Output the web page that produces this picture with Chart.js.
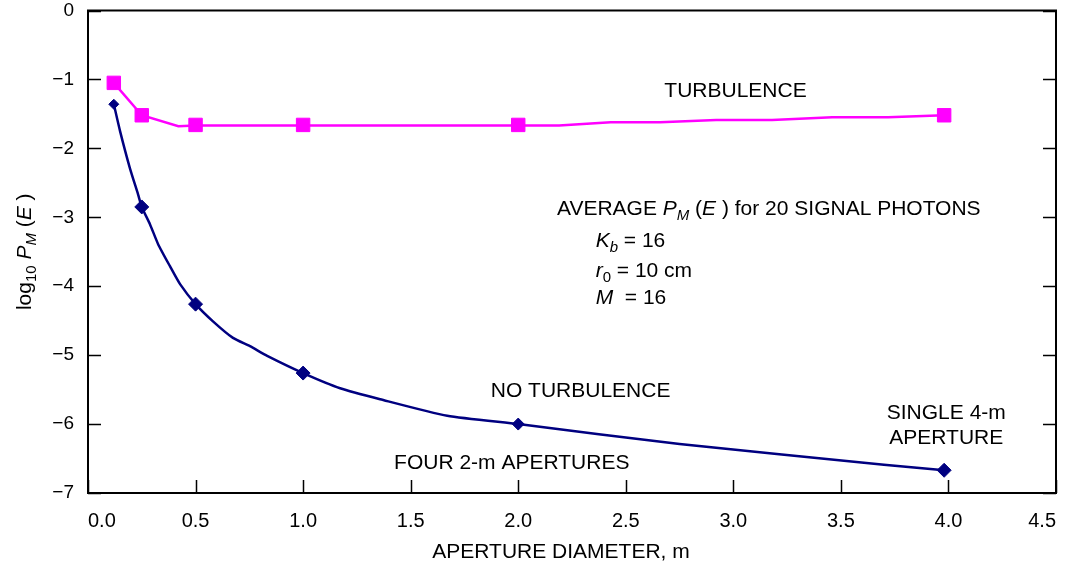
<!DOCTYPE html>
<html>
<head>
<meta charset="utf-8">
<script src="https://cdn.jsdelivr.net/npm/chart.js@4/dist/chart.umd.min.js"></script>
<style>
  html, body { margin: 0; padding: 0; background: #fff; }
  #wrap { width: 1068px; height: 567px; }
</style>
</head>
<body>
<div id="wrap"><canvas id="pmChart" width="1068" height="567"></canvas></div>
<script>
// markers
const apertureX = [0.12, 0.25, 0.5, 1.0, 2.0, 3.98];
const turbY = [-1.05, -1.52, -1.66, -1.66, -1.66, -1.52];
const noTurbY = [-1.36, -2.85, -4.26, -5.26, -6.0, -6.67];

// vertices of the drawn curves (incl. the marker points)
const turbLineX = [0.12, 0.25, 0.42, 0.5, 1.0, 2.0, 2.19, 2.43, 2.66, 2.92, 3.18, 3.46, 3.72, 3.98];
const turbLineY = [-1.05, -1.52, -1.68, -1.67, -1.67, -1.67, -1.67, -1.62, -1.62, -1.59, -1.59, -1.55, -1.55, -1.52];
const noTurbLineX = [0.12, 0.149, 0.195, 0.233, 0.25, 0.288, 0.326, 0.381, 0.428, 0.5, 0.581, 0.674, 0.753, 0.833, 1.0, 1.172, 1.358, 1.67, 2.0, 2.75, 3.7, 3.98];
const noTurbLineY = [-1.36, -1.75, -2.29, -2.67, -2.85, -3.10, -3.39, -3.71, -3.97, -4.26, -4.51, -4.75, -4.87, -5.01, -5.26, -5.48, -5.64, -5.88, -6.0, -6.29, -6.59, -6.67];

const xTicks = [0, 0.5, 1.0, 1.5, 2.0, 2.5, 3.0, 3.5, 4.0, 4.5];
const yTicks = [0, -1, -2, -3, -4, -5, -6, -7];

const FONT = '"Liberation Sans", Arial, Helvetica, sans-serif';
const MAGENTA = '#ff00ff';
const NAVY = '#000080';

function pts(xs, ys) { return xs.map((x, i) => ({ x: x, y: ys[i] })); }

// text with italic / subscript runs
function drawRich(ctx, runs, x, y, align) {
    let total = 0;
    runs.forEach(r => {
        ctx.font = (r.i ? 'italic ' : '') + (r.s ? 15 : 21) + 'px ' + FONT;
        r.w = ctx.measureText(r.t).width;
        total += r.w;
    });
    let cx = align === 'center' ? x - total / 2 : x;
    ctx.textAlign = 'left';
    ctx.textBaseline = 'middle';
    ctx.fillStyle = '#000';
    runs.forEach(r => {
        ctx.font = (r.i ? 'italic ' : '') + (r.s ? 15 : 21) + 'px ' + FONT;
        ctx.fillText(r.t, cx, y + (r.s ? 7 : 0));
        cx += r.w;
    });
}

const framePlugin = {
    id: 'frame',
    afterDraw(chart) {
        const ctx = chart.ctx;
        const a = chart.chartArea;
        const xs = chart.scales.x, ys = chart.scales.y;
        const tl = 13;
        ctx.save();
        ctx.strokeStyle = '#000';
        ctx.lineWidth = 1.5;
        // inward ticks on left, right, bottom
        ctx.beginPath();
        yTicks.forEach(v => {
            const py = Math.round(ys.getPixelForValue(v)) + 0.5;
            ctx.moveTo(a.left, py); ctx.lineTo(a.left + tl, py);
            ctx.moveTo(a.right, py); ctx.lineTo(a.right - tl, py);
        });
        xTicks.forEach(v => {
            const px = Math.round(xs.getPixelForValue(v)) + 0.5;
            ctx.moveTo(px, a.bottom); ctx.lineTo(px, a.bottom - tl);
        });
        ctx.stroke();
        ctx.lineWidth = 2;
        ctx.strokeRect(a.left, a.top, a.right - a.left, a.bottom - a.top);

        // annotations
        const X = v => xs.getPixelForValue(v), Y = v => ys.getPixelForValue(v);
        drawRich(ctx, [{ t: 'TURBULENCE' }], X(3.01), Y(-1.17), 'center');
        drawRich(ctx, [{ t: 'AVERAGE ' }, { t: 'P', i: 1 }, { t: 'M', i: 1, s: 1 }, { t: ' (' }, { t: 'E', i: 1 }, { t: ' ) for 20 SIGNAL PHOTONS' }], X(2.18), Y(-2.88), 'left');
        drawRich(ctx, [{ t: 'K', i: 1 }, { t: 'b', i: 1, s: 1 }, { t: ' = 16' }], X(2.36), Y(-3.34), 'left');
        drawRich(ctx, [{ t: 'r', i: 1 }, { t: '0', s: 1 }, { t: ' = 10 cm' }], X(2.36), Y(-3.78), 'left');
        drawRich(ctx, [{ t: 'M', i: 1 }, { t: '  = 16' }], X(2.36), Y(-4.17), 'left');
        drawRich(ctx, [{ t: 'NO TURBULENCE' }], X(2.29), Y(-5.52), 'center');
        drawRich(ctx, [{ t: 'FOUR 2-m APERTURES' }], X(1.97), Y(-6.57), 'center');
        drawRich(ctx, [{ t: 'SINGLE 4-m' }], X(3.99), Y(-5.84), 'center');
        drawRich(ctx, [{ t: 'APERTURE' }], X(3.99), Y(-6.2), 'center');

        // axis titles
        drawRich(ctx, [{ t: 'APERTURE DIAMETER, m' }], 561, 552, 'center');
        ctx.translate(25, (a.top + a.bottom) / 2);
        ctx.rotate(-Math.PI / 2);
        drawRich(ctx, [{ t: 'log' }, { t: '10', s: 1 }, { t: ' ' }, { t: 'P', i: 1 }, { t: 'M', i: 1, s: 1 }, { t: ' (' }, { t: 'E', i: 1 }, { t: ' )' }], 0, 0, 'center');
        ctx.restore();
    }
};

const ctx = document.getElementById('pmChart').getContext('2d');
new Chart(ctx, {
    type: 'scatter',
    data: {
        datasets: [
            {
                data: pts(turbLineX, turbLineY),
                showLine: true,
                borderColor: MAGENTA,
                borderWidth: 2.5,
                pointRadius: 0,
                tension: 0
            },
            {
                data: pts(noTurbLineX, noTurbLineY),
                showLine: true,
                borderColor: NAVY,
                borderWidth: 2.5,
                pointRadius: 0,
                tension: 0.2
            },
            {
                data: pts(apertureX, turbY),
                pointStyle: 'rect',
                pointRadius: 9.5,
                backgroundColor: MAGENTA,
                borderColor: MAGENTA,
                borderWidth: 1
            },
            {
                data: pts(apertureX, noTurbY),
                pointStyle: 'rectRot',
                pointRadius: [5, 7, 7, 7, 6, 7],
                backgroundColor: NAVY,
                borderColor: NAVY,
                borderWidth: 1
            }
        ]
    },
    options: {
        responsive: false,
        animation: false,
        layout: { padding: { left: 0, top: 9, right: 12, bottom: 0 } },
        plugins: { legend: { display: false }, tooltip: { enabled: false } },
        scales: {
            x: {
                type: 'linear',
                min: 0, max: 4.5,
                grid: { display: false },
                border: { display: false },
                afterFit: s => { s.height = 74; s.paddingLeft = 0; s.paddingRight = 0; },
                afterBuildTicks: s => { s.ticks = xTicks.map(v => ({ value: v })); },
                ticks: {
                    padding: 8,
                    align: 'inner',
                    color: '#000',
                    font: { family: FONT, size: 20 },
                    callback: v => Number(v).toFixed(1)
                }
            },
            y: {
                type: 'linear',
                min: -7, max: 0,
                grid: { display: false },
                border: { display: false },
                afterFit: s => { s.width = 88; s.paddingTop = 0; s.paddingBottom = 0; },
                afterBuildTicks: s => { s.ticks = yTicks.map(v => ({ value: v })); },
                ticks: {
                    padding: 6,
                    color: '#000',
                    font: { family: FONT, size: 19 },
                    callback: v => v < 0 ? '\u2212' + Math.abs(v) : String(v)
                }
            }
        }
    },
    plugins: [framePlugin]
});
</script>
</body>
</html>
